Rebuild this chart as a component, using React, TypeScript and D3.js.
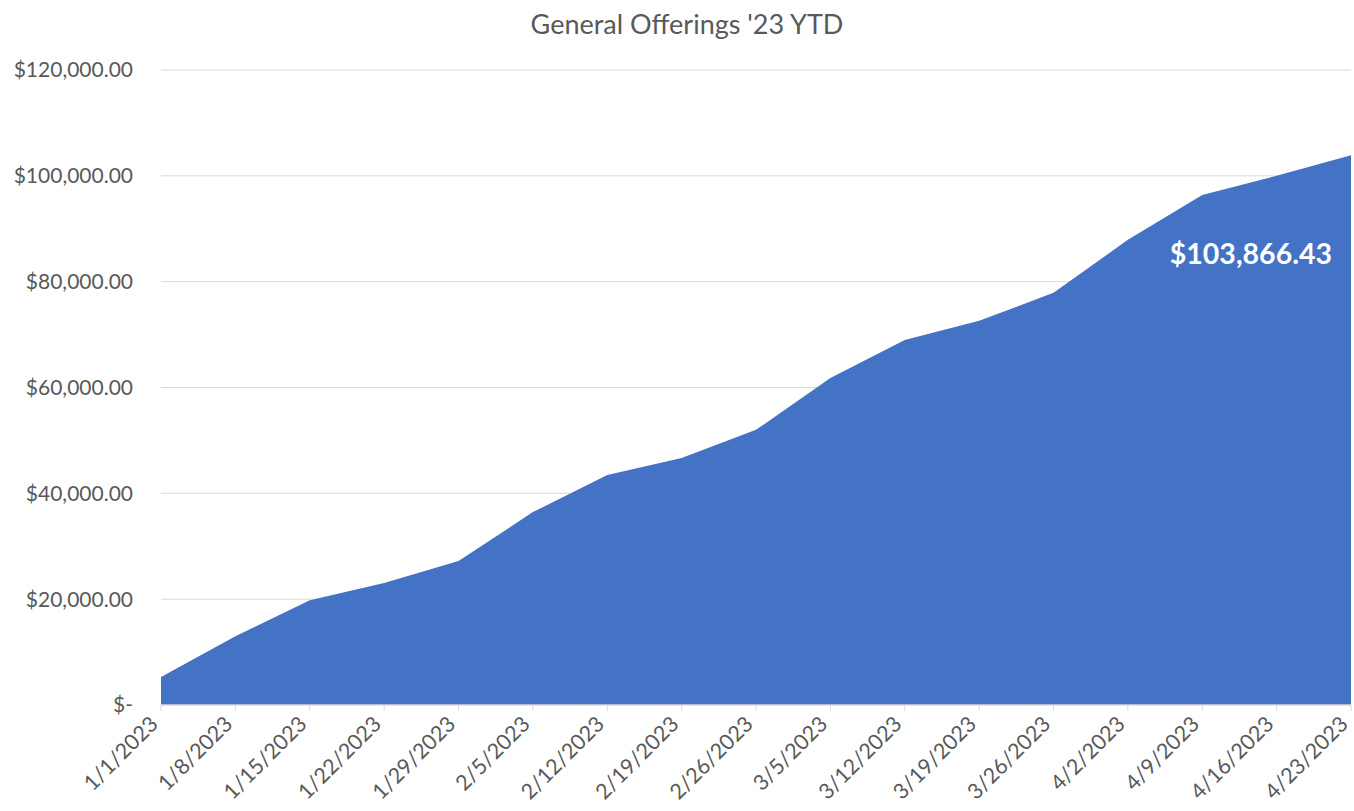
import { useMemo } from "react";
import * as d3 from "d3";

// week labels (x axis)
const WEEKS = [
  "1/1/2023", "1/8/2023", "1/15/2023", "1/22/2023", "1/29/2023", "2/5/2023",
  "2/12/2023", "2/19/2023", "2/26/2023", "3/5/2023", "3/12/2023", "3/19/2023",
  "3/26/2023", "4/2/2023", "4/9/2023", "4/16/2023", "4/23/2023",
];

// cumulative offerings
const TOTALS = [
  5300, 13000, 19800, 23050, 27200, 36450, 43450, 46700, 52000, 61800, 69000,
  72600, 77900, 87900, 96400, 100000, 103866.43,
];

const Y_TICKS = [0, 20000, 40000, 60000, 80000, 100000, 120000];

const W = 1354;
const H = 811;
const M = { left: 161, right: 3, top: 70, bottom: 106 };
const FONT = "Lato, 'Open Sans', sans-serif";
const TEXT = "#595959";

const money = (v: number) =>
  v === 0 ? "$-" : "$" + d3.format(",.2f")(v);

export default function App() {
  const x = useMemo(
    () => d3.scalePoint<string>().domain(WEEKS).range([M.left, W - M.right]),
    []
  );
  const y = useMemo(
    () => d3.scaleLinear().domain([0, 120000]).range([H - M.bottom, M.top]),
    []
  );

  const area = d3
    .area<number>()
    .x((_d, i) => x(WEEKS[i]) as number)
    .y0(y(0))
    .y1((d) => y(d));

  const last = TOTALS[TOTALS.length - 1];

  return (
    <svg
      width={W}
      height={H}
      style={{ position: "absolute", left: 0, top: 0, background: "#fff" }}
      fontFamily={FONT}
    >
      <text x={687} y={34} textAnchor="middle" fontSize={27} fill={TEXT}>
        General Offerings '23 YTD
      </text>

      {/* gridlines + y labels */}
      {Y_TICKS.map((t) => (
        <g key={t}>
          {t > 0 && (
            <line x1={M.left} x2={W - M.right} y1={y(t)} y2={y(t)} stroke="#d9d9d9" strokeWidth={1} />
          )}
          <text x={133} y={y(t)} dy="0.35em" textAnchor="end" fontSize={21} fill={TEXT}>
            {money(t)}
          </text>
        </g>
      ))}

      <path d={area(TOTALS) || ""} fill="#4472C4" />

      {/* baseline + ticks */}
      <line x1={M.left} x2={W - M.right} y1={y(0)} y2={y(0)} stroke="#d9d9d9" strokeWidth={1.5} />
      {WEEKS.map((w) => {
        const px = x(w) as number;
        return (
          <g key={w}>
            <line x1={px} x2={px} y1={y(0)} y2={y(0) + 6} stroke="#d9d9d9" strokeWidth={1} />
            <text
              transform={`translate(${px - 7},${y(0) + 15}) rotate(-45)`}
              textAnchor="end"
              dy="0.35em"
              fontSize={21.5}
              fill={TEXT}
            >
              {w}
            </text>
          </g>
        );
      })}

      <text
        x={1332}
        y={264}
        textAnchor="end"
        fontSize={28.5}
        fontWeight="bold"
        fill="#fff"
      >
        {money(last)}
      </text>
    </svg>
  );
}
